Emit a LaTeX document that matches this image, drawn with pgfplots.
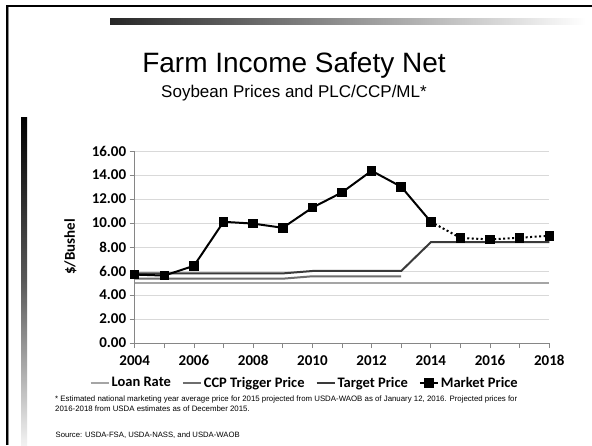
\documentclass[border=0pt]{standalone}
\usepackage{fontspec}
\setmainfont{Liberation Sans}
\newfontfamily\carlito{Carlito}
\usepackage{pgfplots}
\pgfplotsset{compat=1.18}
\definecolor{loanc}{HTML}{A5A5A5}
\definecolor{ccpc}{HTML}{6E6E6E}
\definecolor{tgtc}{HTML}{3A3A3A}
\definecolor{gridc}{HTML}{D9D9D9}
\definecolor{axc}{HTML}{868686}
\newcommand{\tkfont}{\carlito\bfseries\fontsize{15}{15}\selectfont}
\newcommand{\lgfont}{\carlito\bfseries\fontsize{14.5}{15}\selectfont}
\begin{document}
\begin{tikzpicture}[x=1pt,y=1pt]
\useasboundingbox (0,0) rectangle (592,445);
\fill[white] (0,0) rectangle (592,445);
% slide frame
\fill[black] (6,0) rectangle (8.4,440.2);
\fill[black!45] (8.4,0) rectangle (9.4,438.2);
\fill[black] (6,438.2) rectangle (592,440.2);
% gradient bar top
\shade[left color=black!85, right color=white] (110,420) rectangle (586,426);
% left vertical bar
\shade[top color=black, bottom color=black!5, middle color=black!65] (21,0) rectangle (27,327);
% titles
\node[anchor=base, inner sep=0, font=\fontsize{28}{28}\selectfont] at (294,372) {Farm Income Safety Net};
\node[anchor=base, inner sep=0, font=\fontsize{17}{17}\selectfont] at (294,347) {Soybean Prices and PLC/CCP/ML*};
% footnotes
\node[anchor=north west, align=left, inner sep=0, font=\fontsize{7.85}{10}\selectfont] at (55,49.5) {* Estimated national marketing year average price for 2015 projected from USDA-WAOB as of January 12, 2016. Projected prices for\\2016-2018 from USDA estimates as of December 2015.};
\node[anchor=base west, inner sep=0, font=\fontsize{7.7}{9}\selectfont] at (55.5,8) {Source: USDA-FSA, USDA-NASS, and USDA-WAOB};
\begin{axis}[
  at={(134.7pt,102pt)}, anchor=south west,
  scale only axis, width=414.6pt, height=192pt,
  xmin=2004, xmax=2018, ymin=0, ymax=16,
  clip=false,
  axis lines*=left,
  axis line style={draw=axc, line width=0.8pt},
  xtick={2004,2006,...,2018},
  minor xtick={2005,2007,...,2017},
  ytick={0,2,...,16},
  ymajorgrids,
  grid style={draw=gridc, line width=0.8pt},
  tick align=outside,
  major tick length=5pt, minor tick length=5pt,
  tick style={draw=axc, line width=0.8pt},
  xticklabel={\tkfont\pgfmathprintnumber[assume math mode=true,1000 sep={}]{\tick}},
  xticklabel style={yshift=-4pt},
  yticklabel={\tkfont\pgfmathprintnumber[assume math mode=true,fixed,fixed zerofill,precision=2]{\tick}},
  ylabel={\$/Bushel},
  ylabel style={at={(axis description cs:-0.155,0.5)}, anchor=center, font=\tkfont},
  legend style={at={(axis description cs:0.41,-0.208)}, anchor=center, draw=none, fill=none,
    font=\lgfont,
    /tikz/every even column/.append style={column sep=9pt}, inner sep=0pt},
  legend columns=4,
  legend image code/.code={\draw[mark repeat=2,mark phase=2,#1] plot coordinates {(0pt,0pt) (9pt,0pt) (18pt,0pt)};},
]
\addplot[loanc, line width=2pt, mark=none] coordinates {
(2004,5.00)(2005,5.00)(2006,5.00)(2007,5.00)(2008,5.00)(2009,5.00)(2010,5.00)(2011,5.00)(2012,5.00)(2013,5.00)(2014,5.00)(2015,5.00)(2016,5.00)(2017,5.00)(2018,5.00)};
\addlegendentry{Loan Rate}
\addplot[ccpc, line width=2pt, mark=none] coordinates {
(2004,5.36)(2005,5.36)(2006,5.36)(2007,5.36)(2008,5.36)(2009,5.36)(2010,5.56)(2011,5.56)(2012,5.56)(2013,5.56)};
\addlegendentry{CCP Trigger Price}
\addplot[tgtc, line width=2pt, mark=none] coordinates {
(2004,5.80)(2005,5.80)(2006,5.80)(2007,5.80)(2008,5.80)(2009,5.80)(2010,6.00)(2011,6.00)(2012,6.00)(2013,6.00)(2014,8.40)(2015,8.40)(2016,8.40)(2017,8.40)(2018,8.40)};
\addlegendentry{Target Price}
\addplot[black, line width=2pt, mark=square*, mark size=3.8pt, mark options={solid}] coordinates {
(2004,5.70)(2005,5.62)(2006,6.43)(2007,10.10)(2008,9.95)(2009,9.60)(2010,11.28)(2011,12.55)(2012,14.35)(2013,13.02)(2014,10.10)};
\addlegendentry{Market Price}
\addplot[black, line width=2pt, dash pattern=on 2pt off 2.5pt, mark=square*, mark size=3.8pt, mark options={solid}, forget plot] coordinates {
(2014,10.10)(2015,8.76)(2016,8.63)(2017,8.77)(2018,8.94)};
\end{axis}
\end{tikzpicture}
\end{document}
